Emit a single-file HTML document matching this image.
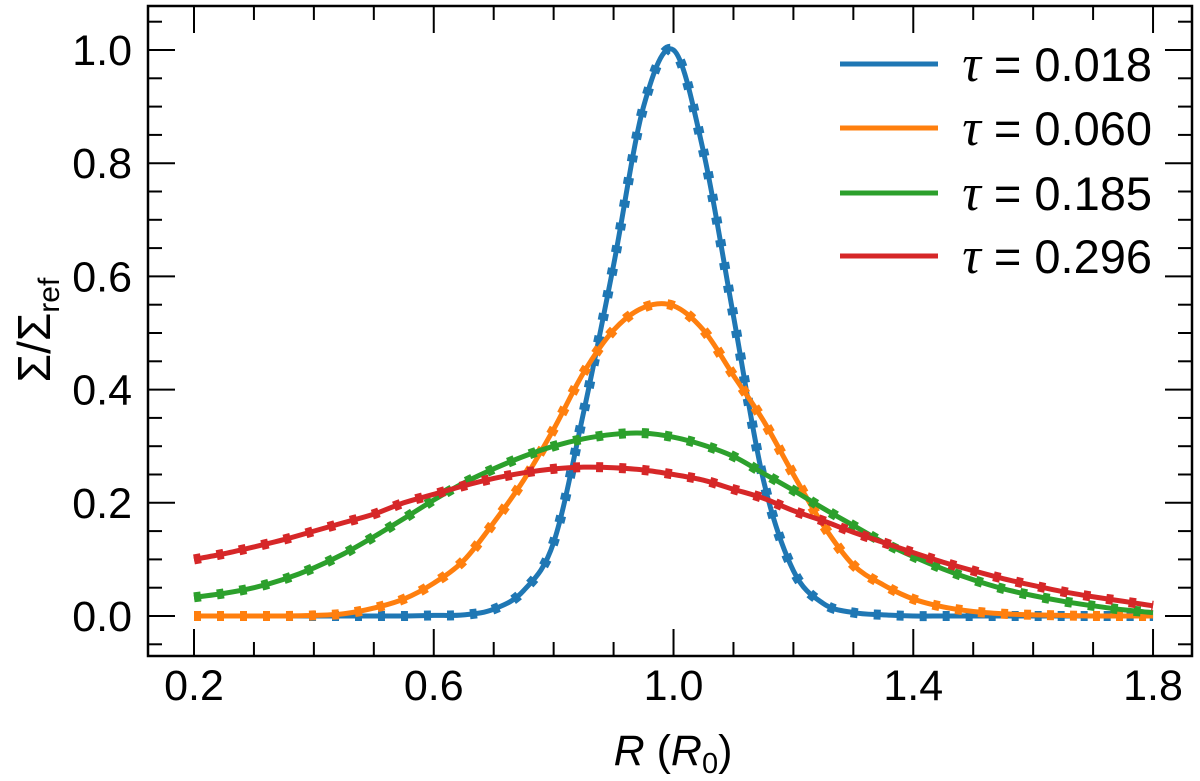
<!DOCTYPE html>
<html><head><meta charset="utf-8"><style>
html,body{margin:0;padding:0;background:#fff;}
svg{display:block;font-family:"Liberation Sans","DejaVu Sans",sans-serif;}
</style></head><body>
<svg id="chart" width="1200" height="781" viewBox="0 0 1200 781" xmlns="http://www.w3.org/2000/svg">
<g id="marks"></g>
<g id="axes"></g>
<g id="legend"></g>
</svg>
<script>
const radii = [0.2,0.25,0.3,0.35,0.4,0.45,0.5,0.55,0.6,0.65,0.7,0.75,0.8,0.85,0.9,0.95,1.0,1.05,1.1,1.15,1.2,1.25,1.3,1.35,1.4,1.45,1.5,1.55,1.6,1.65,1.7,1.75,1.8];
const seriesLabels = ["τ = 0.018","τ = 0.060","τ = 0.185","τ = 0.296"];
const seriesColors = ["#1f77b4","#ff7f0e","#2ca02c","#d62728"];
const tau018 = [0,0,0,0,0,0,0,0,0.001,0.002,0.012,0.045,0.13,0.36,0.62,0.9,1.0,0.82,0.53,0.24,0.08,0.022,0.006,0.002,0,0,0,0,0,0,0,0,0];
const tau060 = [0,0,0,0,0.001,0.004,0.014,0.03,0.058,0.098,0.165,0.24,0.33,0.43,0.505,0.545,0.548,0.505,0.425,0.345,0.25,0.16,0.09,0.055,0.03,0.016,0.008,0.004,0.002,0.001,0,0,0];
const tau185 = [0.033,0.04,0.05,0.065,0.085,0.11,0.14,0.172,0.205,0.235,0.26,0.282,0.3,0.313,0.321,0.323,0.316,0.302,0.282,0.252,0.222,0.19,0.16,0.13,0.105,0.083,0.064,0.048,0.036,0.026,0.018,0.011,0.006];
const tau296 = [0.1,0.11,0.122,0.135,0.15,0.165,0.18,0.2,0.215,0.23,0.243,0.253,0.26,0.263,0.262,0.258,0.25,0.24,0.224,0.208,0.186,0.168,0.148,0.13,0.112,0.095,0.08,0.066,0.054,0.043,0.034,0.026,0.018];
const xTickLabels = ["0.2","0.6","1.0","1.4","1.8"];
const yTickLabels = ["0.0","0.2","0.4","0.6","0.8","1.0"];

const NS="http://www.w3.org/2000/svg";
const L=148,R=1192,T=6,B=656;
function xs(v){return 194+(v-0.2)*599.4;}
function ys(v){return 616-v*566;}
function mk(tag,attrs,parent){const e=document.createElementNS(NS,tag);for(const k in attrs)e.setAttribute(k,attrs[k]);parent.appendChild(e);return e;}
const marks=document.getElementById('marks'),axes=document.getElementById('axes'),legend=document.getElementById('legend');

function smoothPath(pts){
  let d="M"+pts[0][0].toFixed(2)+","+pts[0][1].toFixed(2);
  for(let i=0;i<pts.length-1;i++){
    const p0=pts[Math.max(i-1,0)],p1=pts[i],p2=pts[i+1],p3=pts[Math.min(i+2,pts.length-1)];
    const c1=[p1[0]+(p2[0]-p0[0])/6,p1[1]+(p2[1]-p0[1])/6];
    const c2=[p2[0]-(p3[0]-p1[0])/6,p2[1]-(p3[1]-p1[1])/6];
    d+=" C"+c1[0].toFixed(2)+","+c1[1].toFixed(2)+" "+c2[0].toFixed(2)+","+c2[1].toFixed(2)+" "+p2[0].toFixed(2)+","+p2[1].toFixed(2);
  }
  return d;
}
const allSeries=[tau018,tau060,tau185,tau296];
const keys=["018","060","185","296"];
allSeries.forEach((vals,si)=>{
  const pts=radii.map((r,i)=>[xs(r),ys(vals[i])]);
  const d=smoothPath(pts);
  const line=mk('path',{d:d,fill:'none',stroke:seriesColors[si],'stroke-width':5,'stroke-linejoin':'round'},marks);
  
  
  const dash=mk('path',{d:d,fill:'none',stroke:seriesColors[si],'stroke-width':10,'stroke-dasharray':'7 16'},marks);
  
  
});

const frame=mk('rect',{x:L,y:T,width:R-L,height:B-T,fill:'none',stroke:'#000','stroke-width':2.5},axes);


for(let k=2;k<=18;k++){
  const v=k/10,x=xs(v),major=(k-2)%4===0,len=major?27:14;
  mk('line',{x1:x,y1:B,x2:x,y2:B-len,stroke:'#000','stroke-width':2},axes);
  mk('line',{x1:x,y1:T,x2:x,y2:T+len,stroke:'#000','stroke-width':2},axes);
}
xTickLabels.forEach(s=>{
  const t=mk('text',{x:xs(parseFloat(s)),y:700,'text-anchor':'middle','font-size':43},axes);
  t.textContent=s;
  
  
});
for(let k=-1;k<=21;k++){
  const v=k*0.05,y=ys(v);if(y<T+2||y>B-2)continue;
  const major=k>=0&&k%4===0,len=major?27:14;
  mk('line',{x1:L,y1:y,x2:L+len,y2:y,stroke:'#000','stroke-width':2},axes);
  mk('line',{x1:R,y1:y,x2:R-len,y2:y,stroke:'#000','stroke-width':2},axes);
}
yTickLabels.forEach(s=>{
  const t=mk('text',{x:132,y:ys(parseFloat(s))+15,'text-anchor':'end','font-size':43},axes);
  t.textContent=s;
  
  
});
const yt=mk('text',{x:0,y:0,'text-anchor':'middle','font-size':46,transform:'translate(50,330) rotate(-90)'},axes);
yt.innerHTML='Σ/Σ<tspan font-size="30" dy="9">ref</tspan>';


const xt=mk('text',{x:673,y:765,'text-anchor':'middle','font-size':43},axes);
xt.innerHTML='<tspan font-style="italic">R</tspan> (<tspan font-style="italic">R</tspan><tspan font-size="29" dy="8">0</tspan><tspan dy="-8">)</tspan>';


const legY=[64,128,193,256];
seriesLabels.forEach((lab,i)=>{
  const ln=mk('line',{x1:840,y1:legY[i],x2:938,y2:legY[i],stroke:seriesColors[i],'stroke-width':5},legend);
  
  
  const t=mk('text',{x:1152,y:legY[i]+17,'text-anchor':'end','font-size':47},legend);
  t.innerHTML='<tspan font-style="italic" font-family="Liberation Serif, serif" font-size="52">τ</tspan> = '+lab.split('= ')[1];
  
  
});
</script>
</body></html>
